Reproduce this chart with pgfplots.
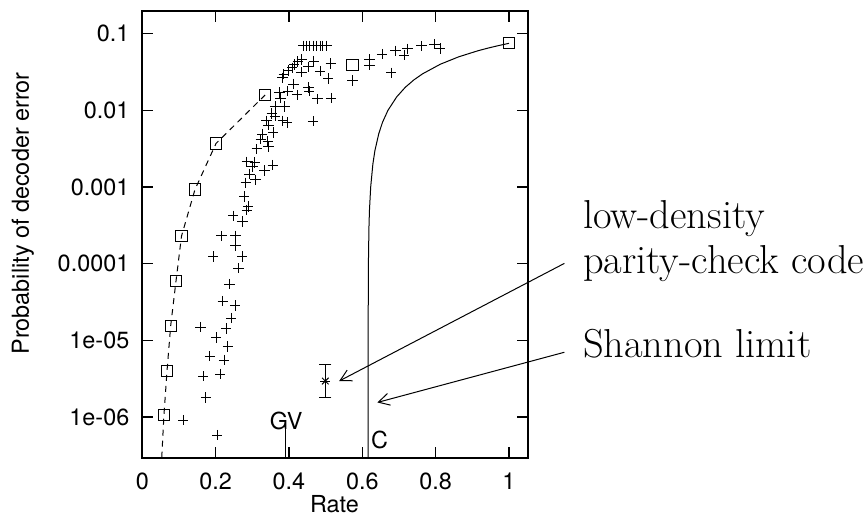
\documentclass[border=0pt]{standalone}
\usepackage{fontspec}
\usepackage{pgfplots}
\pgfplotsset{compat=1.18}
\usetikzlibrary{arrows.meta}
\newfontfamily\heros{TeX Gyre Heros}
\newcommand{\axfont}{\heros\fontsize{11.7}{14}\selectfont}
\newcommand{\bigfont}{\fontsize{20.2}{24}\selectfont}

\begin{document}
\begin{tikzpicture}
\useasboundingbox (-71.15pt,-30.15pt) rectangle (362.85pt,228.85pt);
\begin{axis}[
  at={(0,0)}, anchor=south west,
  scale only axis, width=192.7pt, height=223.35pt,
  xmin=0, xmax=1.051, ymode=log, ymin=2.95e-7, ymax=0.198,
  xtick={0,0.2,0.4,0.6,0.8,1}, xticklabels={0,0.2,0.4,0.6,0.8,1},
  ytick={1e-6,1e-5,1e-4,1e-3,1e-2,1e-1},
  yticklabels={1e-06,1e-05,0.0001,0.001,0.01,0.1},
  yminorticks=false,
  tick align=inside, major tick length=5.3pt,
  axis line style={line width=0.8pt},
  tick style={black, line width=0.6pt},
  ticklabel style={font=\axfont},
  xticklabel style={anchor=base, inner sep=0pt, yshift=-15.8pt},
  yticklabel style={anchor=east, inner sep=0pt, xshift=-6.3pt},
  xlabel={Rate}, ylabel={Probability of decoder error},
  label style={font=\axfont},
  xlabel style={at={(axis description cs:0.4987,-0.1231)}, anchor=base},
  ylabel style={at={(axis description cs:-0.3096,0.547)}, anchor=center},
  /pgf/number format/assume math mode=true,
]
% sparse-graph codes (crosses)
\addplot[only marks, mark=+, mark size=2.6pt, line width=0.5pt] coordinates {
  (0.439,0.0697)(0.448,0.0697)(0.457,0.0697)(0.466,0.0697)(0.476,0.0697)(0.485,0.0697)(0.492,0.0697)(0.503,0.0697)
  (0.4347,0.0463)(0.4238,0.0434)(0.4137,0.0399)(0.409,0.0360)(0.398,0.0330)(0.386,0.0298)(0.382,0.0267)
  (0.468,0.0441)(0.514,0.0407)(0.485,0.0325)(0.4336,0.0315)(0.4527,0.0371)(0.507,0.0262)
  (0.412,0.0221)(0.4527,0.0200)(0.4554,0.0179)(0.422,0.0159)(0.397,0.0179)(0.478,0.0141)(0.515,0.0145)
  (0.374,0.0171)(0.377,0.0144)(0.362,0.0112)(0.389,0.0112)(0.573,0.0246)
  (0.353,0.00916)(0.362,0.00845)(0.339,0.00734)(0.344,0.00645)(0.383,0.00734)(0.395,0.00692)(0.466,0.00721)
  (0.357,0.00518)(0.327,0.00492)(0.323,0.00420)(0.342,0.00391)(0.344,0.00336)(0.312,0.00314)
  (0.285,0.00214)(0.307,0.00208)(0.301,0.00185)(0.356,0.00194)(0.333,0.00164)(0.292,0.00148)(0.309,0.00124)(0.282,0.00114)(0.278,7.5e-4)
  (0.289,5.55e-4)(0.285,5.02e-4)(0.248,4.23e-4)(0.273,3.54e-4)(0.2165,2.30e-4)(0.2547,2.32e-4)(0.2547,1.71e-4)
  (0.1936,1.24e-4)(0.2727,1.24e-4)(0.2618,8.74e-5)(0.2373,5.41e-5)
  (0.2193,3.25e-5)(0.2528,2.86e-5)(0.2427,1.95e-5)(0.1582,1.49e-5)(0.229,1.43e-5)(0.2018,1.09e-5)(0.2337,8.3e-6)
  (0.1846,6.22e-6)(0.2233,5.52e-6)(0.1663,3.41e-6)(0.2127,3.64e-6)(0.1737,1.81e-6)(0.1118,9.1e-7)(0.2045,5.8e-7)
  (0.62,0.0461)(0.62,0.0391)(0.654,0.0541)(0.690,0.0600)(0.714,0.0527)(0.723,0.0637)(0.761,0.0692)(0.797,0.0730)(0.812,0.0645)(0.679,0.0310)
};
% dashed curve through squares
\addplot[no marks, line width=0.5pt, dash pattern=on 3pt off 2.5pt] coordinates {
  (0.053,2.95e-7)(0.059,1.06e-6)(0.0674,4e-6)(0.0774,1.55e-5)(0.092,6e-5)(0.107,2.3e-4)(0.1437,9.3e-4)(0.201,3.7e-3)(0.335,0.0159)
};
\addplot[only marks, mark=square, mark size=2.8pt, line width=0.5pt] coordinates {
  (0.059,1.06e-6)(0.0674,4e-6)(0.0774,1.55e-5)(0.092,6e-5)(0.107,2.3e-4)(0.1437,9.3e-4)(0.201,3.7e-3)(0.335,0.0159)
  (0.573,0.0387)(1.0,0.075)
};
% Shannon limit
\addplot[no marks, line width=0.5pt] coordinates {
  (0.6157,2.95e-7)(0.6157,1e-6)(0.6158,1e-5)(0.6166,1e-4)(0.6181,3e-4)(0.6195,5e-4)(0.6228,1e-3)(0.6288,2e-3)
  (0.6344,3e-3)(0.6450,5e-3)(0.6551,7e-3)(0.6698,0.01)(0.6937,0.015)(0.7171,0.02)(0.7406,0.025)(0.7643,0.03)
  (0.8126,0.04)(0.8628,0.05)(0.9154,0.06)(0.9429,0.065)(0.971,0.07)(1.0,0.075)
};
% GV marker
\addplot[no marks, line width=0.4pt] coordinates {(0.3906,2.95e-7)(0.3906,7e-7)};
% LDPC point with its error bar
\addplot[no marks, line width=0.5pt] coordinates {(0.499,1.78e-6)(0.499,4.9e-6)};
\addplot[only marks, mark=-, mark size=3pt, line width=0.5pt] coordinates {(0.499,1.78e-6)(0.499,4.9e-6)};
\addplot[only marks, mark=x, mark size=2.3pt, line width=0.5pt] coordinates {(0.499,2.95e-6)};
\addplot[only marks, mark=+, mark size=2.6pt, line width=0.5pt] coordinates {(0.499,2.95e-6)};
\node[font=\axfont, anchor=base, inner sep=0pt] at (axis cs:0.3924,6.95e-7) {GV};
\node[font=\axfont, anchor=base west, inner sep=0pt] at (axis cs:0.6229,3.93e-7) {C};
\coordinate (l0) at (axis cs:1.151,1.01e-4);
\coordinate (l1) at (axis cs:0.537,2.95e-6);
\coordinate (s0) at (axis cs:1.151,7.0e-6);
\coordinate (s1) at (axis cs:0.641,1.55e-6);
\coordinate (t1) at (rel axis cs:1.1427,0.5135);
\coordinate (t2) at (rel axis cs:1.1427,0.4128);
\coordinate (t3) at (rel axis cs:1.1427,0.2239);
\end{axis}
\draw[line width=0.5pt, -{Straight Barb[length=5.5pt,width=6pt]}] (l0) -- (l1);
\draw[line width=0.5pt, -{Straight Barb[length=5.5pt,width=6pt]}] (s0) -- (s1);
\node[anchor=base west, inner sep=0pt, font=\bigfont] at (t1) {low-density};
\node[anchor=base west, inner sep=0pt, font=\bigfont] at (t2) {parity-check code};
\node[anchor=base west, inner sep=0pt, font=\bigfont] at (t3) {Shannon limit};
\end{tikzpicture}
\end{document}
